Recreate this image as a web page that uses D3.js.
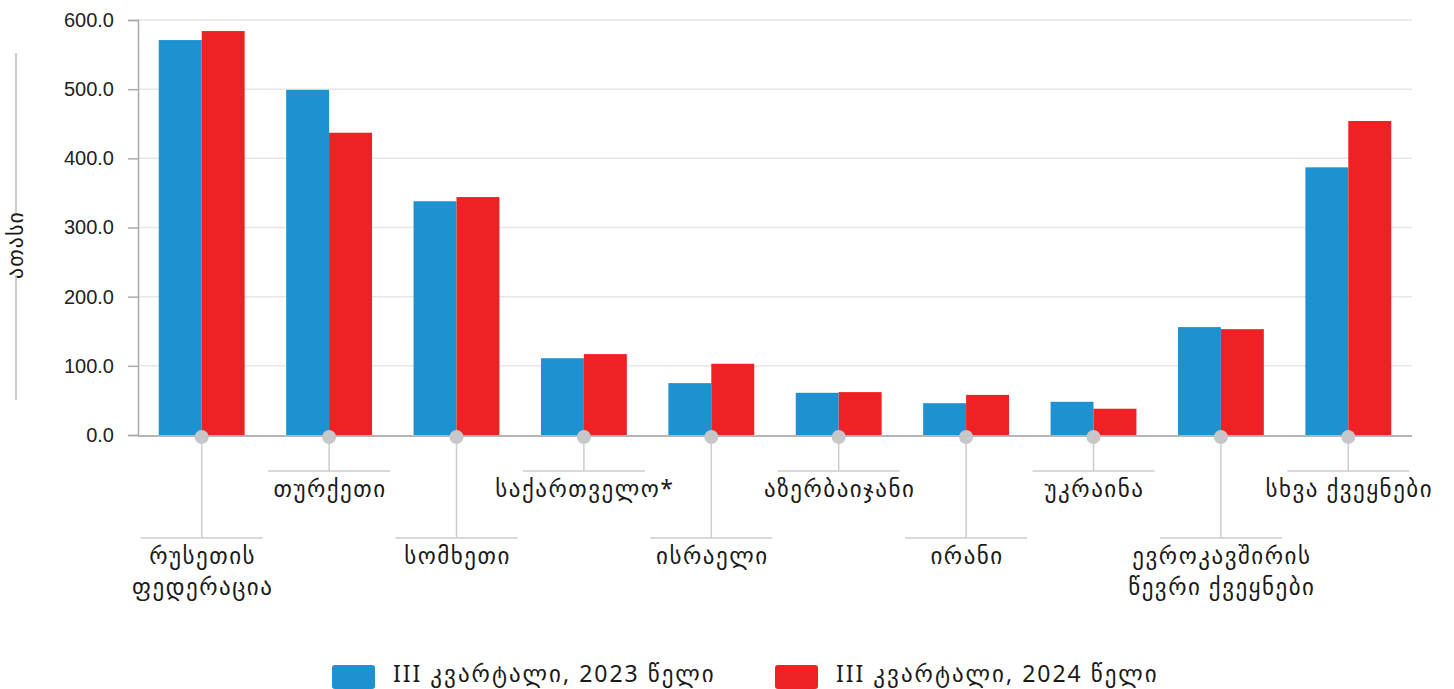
<!DOCTYPE html>
<html>
<head>
<meta charset="utf-8">
<script src="https://cdn.jsdelivr.net/npm/d3@7"></script>
<style>
  body { margin: 0; background: #fff; }
  svg { display: block; font-family: "Noto Sans", "DejaVu Sans", sans-serif; }
</style>
</head>
<body>
<svg id="chart" width="1454" height="689"></svg>
<script>
const categories = [
    ["რუსეთის", "ფედერაცია"],
    ["თურქეთი"],
    ["სომხეთი"],
    ["საქართველო*"],
    ["ისრაელი"],
    ["აზერბაიჯანი"],
    ["ირანი"],
    ["უკრაინა"],
    ["ევროკავშირის", "წევრი ქვეყნები"],
    ["სხვა ქვეყნები"]
];
const seriesNames = ["III კვარტალი, 2023 წელი", "III კვარტალი, 2024 წელი"];
const values2023 = [571, 499, 338, 111, 75, 61, 46, 48, 156, 387];
const values2024 = [584, 437, 344, 117, 103, 62, 58, 38, 153, 454];
const yTicks = [0, 100, 200, 300, 400, 500, 600];
const yLabel = "ათასი";

const colors = ["#1e92d0", "#ee2125"];

const svg = d3.select("#chart");
const margin = { top: 20, left: 138, right: 42 };
const plotW = 1454 - margin.left - margin.right;
const plotH = 415;

const g = svg.append("g").attr("transform", `translate(${margin.left},${margin.top})`);

const keys = categories.map((c, i) => i);
const x = d3.scaleBand().domain(keys).range([0, plotW]).padding(0);
const x1 = d3.scaleBand().domain([0, 1])
    .range([x.bandwidth() * 0.163, x.bandwidth() * 0.837]);
const y = d3.scaleLinear().domain([0, 600]).range([plotH, 0]);

// grid
g.append("g")
    .selectAll("line")
    .data(yTicks.filter(d => d > 0))
    .enter().append("line")
    .attr("x1", 0).attr("x2", plotW)
    .attr("y1", d => y(d)).attr("y2", d => y(d))
    .attr("stroke", "#e6e6e6").attr("stroke-width", 1.5);

// y axis
const yAxis = g.append("g")
    .call(d3.axisLeft(y).tickValues(yTicks).tickFormat(d3.format(".1f")).tickSize(10).tickPadding(14));
yAxis.select(".domain").attr("stroke", "#aaaaaa").attr("stroke-width", 1.5);
yAxis.selectAll(".tick line").attr("stroke", "#aaaaaa").attr("stroke-width", 1.5);
yAxis.selectAll(".tick text").attr("font-size", 20).attr("fill", "#222");

// bars
const data = keys.map(i => [values2023[i], values2024[i]]);
const groups = g.append("g").selectAll("g")
    .data(data)
    .enter().append("g")
    .attr("transform", (d, i) => `translate(${x(i)},0)`);
groups.selectAll("rect")
    .data(d => d)
    .enter().append("rect")
    .attr("x", (d, j) => x1(j))
    .attr("y", d => y(d))
    .attr("width", x1.bandwidth())
    .attr("height", d => plotH - y(d))
    .attr("fill", (d, j) => colors[j]);

// baseline
g.append("line")
    .attr("x1", 0).attr("x2", plotW)
    .attr("y1", plotH + 1).attr("y2", plotH + 1)
    .attr("stroke", "#b5b5b5").attr("stroke-width", 2);

// category leaders and labels
const cats = g.append("g").selectAll("g")
    .data(categories)
    .enter().append("g")
    .attr("transform", (d, i) => `translate(${x(i) + x.bandwidth() / 2},${plotH + 2})`);

cats.append("line")
    .attr("x1", 0).attr("x2", 0)
    .attr("y1", 0).attr("y2", (d, i) => i % 2 === 0 ? 101 : 34)
    .attr("stroke", "#cccccc").attr("stroke-width", 1.5);
cats.append("line")
    .attr("x1", -61).attr("x2", 61)
    .attr("y1", (d, i) => i % 2 === 0 ? 101 : 34)
    .attr("y2", (d, i) => i % 2 === 0 ? 101 : 34)
    .attr("stroke", "#cccccc").attr("stroke-width", 1.5);
cats.append("circle")
    .attr("r", 7).attr("cy", 0)
    .attr("fill", "#c6c7c9");

cats.each(function(lines, i) {
    const base = i % 2 === 0 ? 127 : 60;
    const t = d3.select(this).append("text")
        .attr("text-anchor", "middle")
        .attr("font-size", 23)
        .attr("letter-spacing", 1.5)
        .attr("fill", "#1a1a1a");
    lines.forEach((s, k) => {
        t.append("tspan").attr("x", 1).attr("y", base + k * 31).text(s);
    });
});

// y label
const yl = svg.append("g").attr("transform", "translate(16,245)");
yl.append("text")
    .attr("transform", "rotate(-90)")
    .attr("x", 0).attr("y", 7)
    .attr("text-anchor", "middle")
    .attr("font-size", 22)
    .attr("letter-spacing", 1)
    .attr("fill", "#1a1a1a")
    .text(yLabel);
yl.append("line").attr("x1", 0).attr("x2", 0).attr("y1", -192).attr("y2", -32)
    .attr("stroke", "#bbbbbb").attr("stroke-width", 1.5);
yl.append("line").attr("x1", 0).attr("x2", 0).attr("y1", 30).attr("y2", 155)
    .attr("stroke", "#bbbbbb").attr("stroke-width", 1.5);

// legend
const legendX = [332, 775];
const legend = svg.append("g").selectAll("g")
    .data(seriesNames)
    .enter().append("g")
    .attr("transform", (d, i) => `translate(${legendX[i]},665)`);
legend.append("rect")
    .attr("width", 43).attr("height", 24).attr("rx", 3)
    .attr("fill", (d, i) => colors[i]);
legend.append("text")
    .attr("x", 61).attr("y", 17)
    .attr("font-size", 23)
    .attr("letter-spacing", 2)
    .attr("fill", "#1a1a1a")
    .text(d => d);
</script>
</body>
</html>
